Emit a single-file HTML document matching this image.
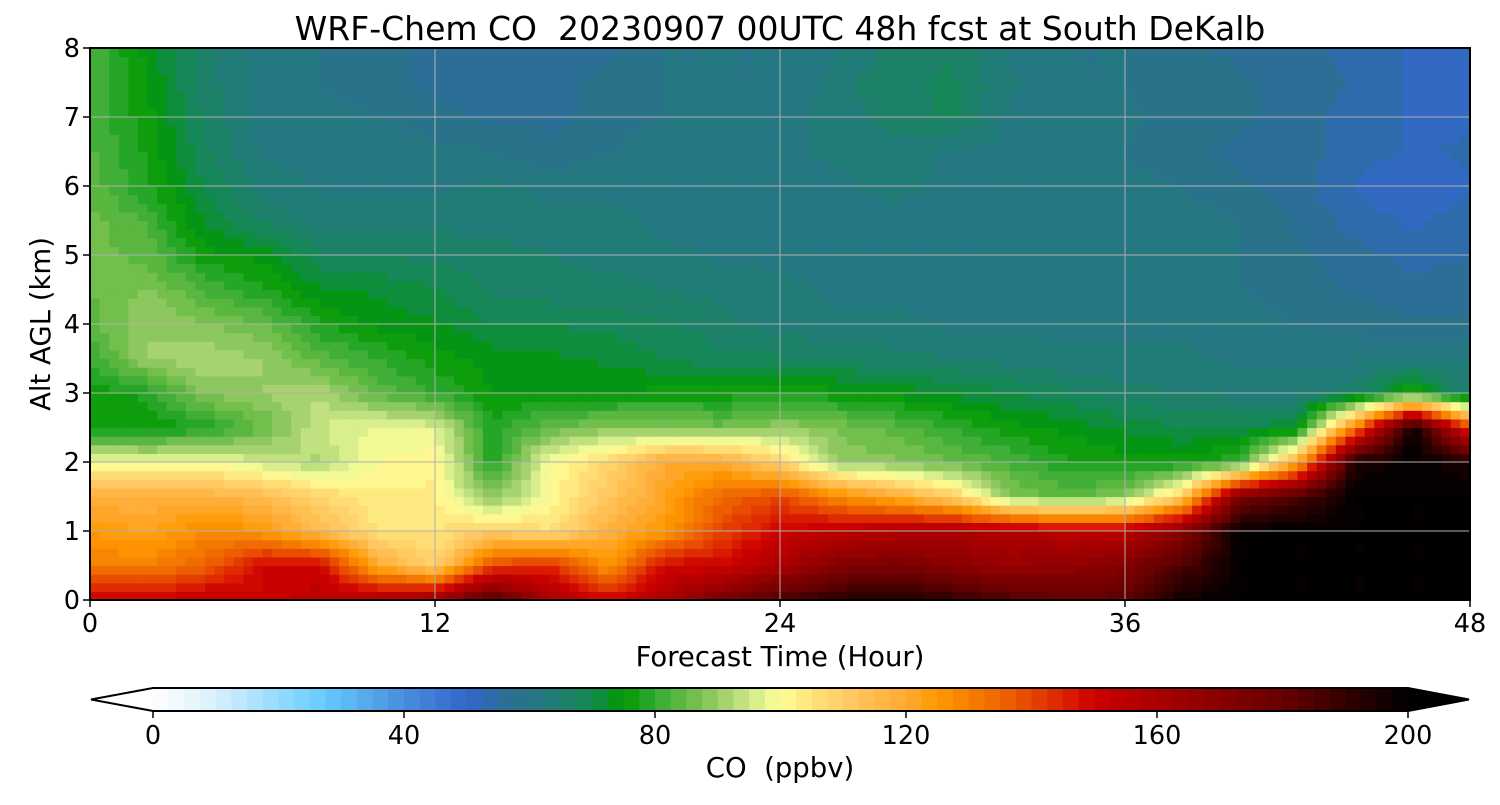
<!DOCTYPE html>
<html><head><meta charset="utf-8"><style>
body{margin:0;background:#fff;}
svg text{font-family:"DejaVu Sans","Liberation Sans",sans-serif;fill:#000;white-space:pre;}
</style></head><body>
<svg id="chart" width="1500" height="800" viewBox="0 0 1500 800">
<g id="field"></g>
<g id="grid"></g>
<rect x="90" y="48" width="1380" height="552" fill="none" stroke="#000" stroke-width="2"/>
<g id="axes"></g>
<text x="780" y="40" font-size="33" text-anchor="middle" xml:space="preserve">WRF-Chem CO  20230907 00UTC 48h fcst at South DeKalb</text>
<text x="780" y="666" font-size="27.5" text-anchor="middle">Forecast Time (Hour)</text>
<text transform="translate(50,324) rotate(-90)" font-size="27.5" text-anchor="middle">Alt AGL (km)</text>
<g id="cbar"></g>
<text x="780" y="777" font-size="27.5" text-anchor="middle" xml:space="preserve">CO  (ppbv)</text>
</svg>
<script>
const times=[0,2,4,6,8,10,12,14,16,18,20,22,24,26,28,30,32,34,36,38,40,42,44,46,48];
const alts=[0,0.5,1,1.5,2,2.5,3,3.5,4,4.5,5,5.5,6,6.5,7,7.5,8];
const r0=[150,150,155,150,155,160,165,185,160,150,160,175,185,192,195,190,185,180,182,198,200,200,200,200,200];
const r1=[130,130,135,150,150,120,108,140,145,125,150,150,160,172,175,170,165,168,172,185,200,200,200,200,200];
const r2=[125,122,128,125,115,105,105,110,105,118,125,140,150,155,158,160,158,155,155,170,200,200,200,200,200];
const r3=[118,118,118,115,108,103,103,88,100,112,122,135,140,128,120,110,88,84,88,110,175,185,200,200,200];
const r4=[100,98,100,95,92,100,102,78,100,108,120,120,108,90,88,85,82,78,76,76,80,120,195,200,195];
const r5=[76,76,78,85,95,98,97,78,85,88,88,86,90,87,84,80,76,74,72,70,70,72,130,200,140];
const r6=[76,78,88,90,92,84,80,75,75,75,76,76,77,76,74,72,70,68,66,65,64,64,66,78,65];
const r7=[80,90,92,90,84,80,76,74,73,72,70,68,68,67,66,65,64,63,63,63,62,62,62,62,62];
const r8=[84,90,88,85,78,74,73,70,70,69,68,66,64,63,63,62,62,62,62,62,61,60,59,58,58];
const r9=[85,88,82,78,73,72,70,67,66,66,65,64,63,62,62,62,62,62,62,61,60,59,57,56,56];
const r10=[86,84,76,74,68,67,67,66,65,64,63,62,62,62,62,62,62,62,62,61,60,58,56,54,55];
const r11=[86,82,72,67,64,64,64,64,63,63,62,62,62,62,62,62,62,62,62,61,60,57,54,52,54];
const r12=[84,78,70,64,62,62,62,63,62,62,62,62,62,62,63,62,62,62,61,60,58,56,52,50,52];
const r13=[83,77,68,62,62,62,61,60,58,60,62,62,62,63,64,62,62,61,60,58,57,56,54,52,53];
const r14=[82,76,67,62,61,60,58,57,57,58,60,62,61,64,66,68,62,60,61,58,58,56,54,52,52];
const r15=[82,75,66,62,60,58,57,57,57,58,60,60,60,64,67,68,63,60,60,58,58,56,55,52,52];
const r16=[82,74,66,61,60,58,57,57,56,57,60,60,60,62,66,67,62,60,60,58,57,56,54,52,51];
const rows=[r0,r1,r2,r3,r4,r5,r6,r7,r8,r9,r10,r11,r12,r13,r14,r15,r16];
const xTicks=[0,12,24,36,48];
const yTicks=[0,1,2,3,4,5,6,7,8];
const cTicks=[0,40,80,120,160,200];

const NS="http://www.w3.org/2000/svg";
const X=t=>90+t/48*1380;
const Y=a=>600-a/8*552;
const CX=v=>153+v/200*1255;
const anchors=[[0,"#ffffff"],[10,"#d8f0fc"],[27,"#66ccff"],[38,"#4d96e0"],[50,"#3366cc"],[57,"#2a7090"],[63,"#237a7c"],[70,"#138a50"],[75,"#009900"],[80,"#33aa33"],[85,"#66bb44"],[90,"#99cc66"],[95,"#cce888"],[100,"#ffff99"],[105,"#ffe37a"],[110,"#ffcc66"],[120,"#ffaa33"],[125,"#ff9900"],[135,"#ee6600"],[145,"#dd2200"],[150,"#cc0000"],[165,"#990000"],[180,"#660000"],[190,"#330000"],[200,"#000000"]];
function hx(h){return [1,3,5].map(i=>parseInt(h.substr(i,2),16));}
function cmap(v){
  v=Math.max(0,Math.min(200,Math.floor(v/2.5)*2.5+1.25));
  for(let i=0;i<anchors.length-1;i++){
    const [a,ca]=anchors[i],[b,cb]=anchors[i+1];
    if(v>=a&&v<=b){const f=(v-a)/(b-a),p=hx(ca),q=hx(cb);
      return "rgb("+p.map((c,k)=>Math.round(c+(q[k]-c)*f)).join(",")+")";}
  }
  return "#000";
}
const field=document.getElementById("field");
const SX=6,SY=4;
for(let j=0;j<alts.length-1;j++){
  for(let i=0;i<times.length-1;i++){
    for(let sy=0;sy<SY;sy++){for(let sx=0;sx<SX;sx++){
      const fx=(sx+0.5)/SX,fy=(sy+0.5)/SY;
      const v=rows[j][i]*(1-fx)*(1-fy)+rows[j][i+1]*fx*(1-fy)+rows[j+1][i]*(1-fx)*fy+rows[j+1][i+1]*fx*fy;
      const t0=times[i]+(times[i+1]-times[i])*sx/SX,t1=times[i]+(times[i+1]-times[i])*(sx+1)/SX;
      const a0=alts[j]+(alts[j+1]-alts[j])*sy/SY,a1=alts[j]+(alts[j+1]-alts[j])*(sy+1)/SY;
      const r=document.createElementNS(NS,"rect");
      r.setAttribute("x",X(t0));r.setAttribute("y",Y(a1));
      r.setAttribute("width",X(t1)-X(t0)+0.6);r.setAttribute("height",Y(a0)-Y(a1)+0.6);
      r.setAttribute("fill",cmap(v));
      
      
      field.appendChild(r);
    }}
  }
}
const grid=document.getElementById("grid"),axes=document.getElementById("axes");
function mk(tag,attrs,parent){const e=document.createElementNS(NS,tag);for(const k in attrs)e.setAttribute(k,attrs[k]);parent.appendChild(e);return e;}
xTicks.forEach(t=>{
  const l=mk("line",{x1:X(t),x2:X(t),y1:48,y2:600,stroke:"#b0b0b0","stroke-width":1},grid);
  
  
  mk("line",{x1:X(t),x2:X(t),y1:600,y2:607,stroke:"#000","stroke-width":1.5},axes);
  const tx=mk("text",{x:X(t),y:632,"font-size":25.5,"text-anchor":"middle"},axes);tx.textContent=t;
  
  
});
yTicks.forEach(a=>{
  const l=mk("line",{x1:90,x2:1470,y1:Y(a),y2:Y(a),stroke:"#b0b0b0","stroke-width":1},grid);
  
  
  mk("line",{x1:83,x2:90,y1:Y(a),y2:Y(a),stroke:"#000","stroke-width":1.5},axes);
  const tx=mk("text",{x:80,y:Y(a)+9,"font-size":25.5,"text-anchor":"end"},axes);tx.textContent=a;
  
  
});
const cb=document.getElementById("cbar");
mk("polygon",{points:"153,688 91,699.5 153,711",fill:"#ffffff"},cb);
mk("polygon",{points:"1408,688 1469,699.5 1408,711",fill:"#000000"},cb);
for(let v=0;v<200;v+=2.5){
  const r=mk("rect",{x:CX(v),y:688,width:CX(v+2.5)-CX(v)+0.5,height:23,fill:cmap(v)},cb);
  
  
}
mk("polygon",{points:"153,688 1408,688 1469,699.5 1408,711 153,711 91,699.5",fill:"none",stroke:"#000","stroke-width":2},cb);
cTicks.forEach(v=>{
  mk("line",{x1:CX(v),x2:CX(v),y1:711,y2:718,stroke:"#000","stroke-width":1.5},cb);
  const tx=mk("text",{x:CX(v),y:744,"font-size":25.5,"text-anchor":"middle"},cb);tx.textContent=v;
  
  
});
</script>
</body></html>
